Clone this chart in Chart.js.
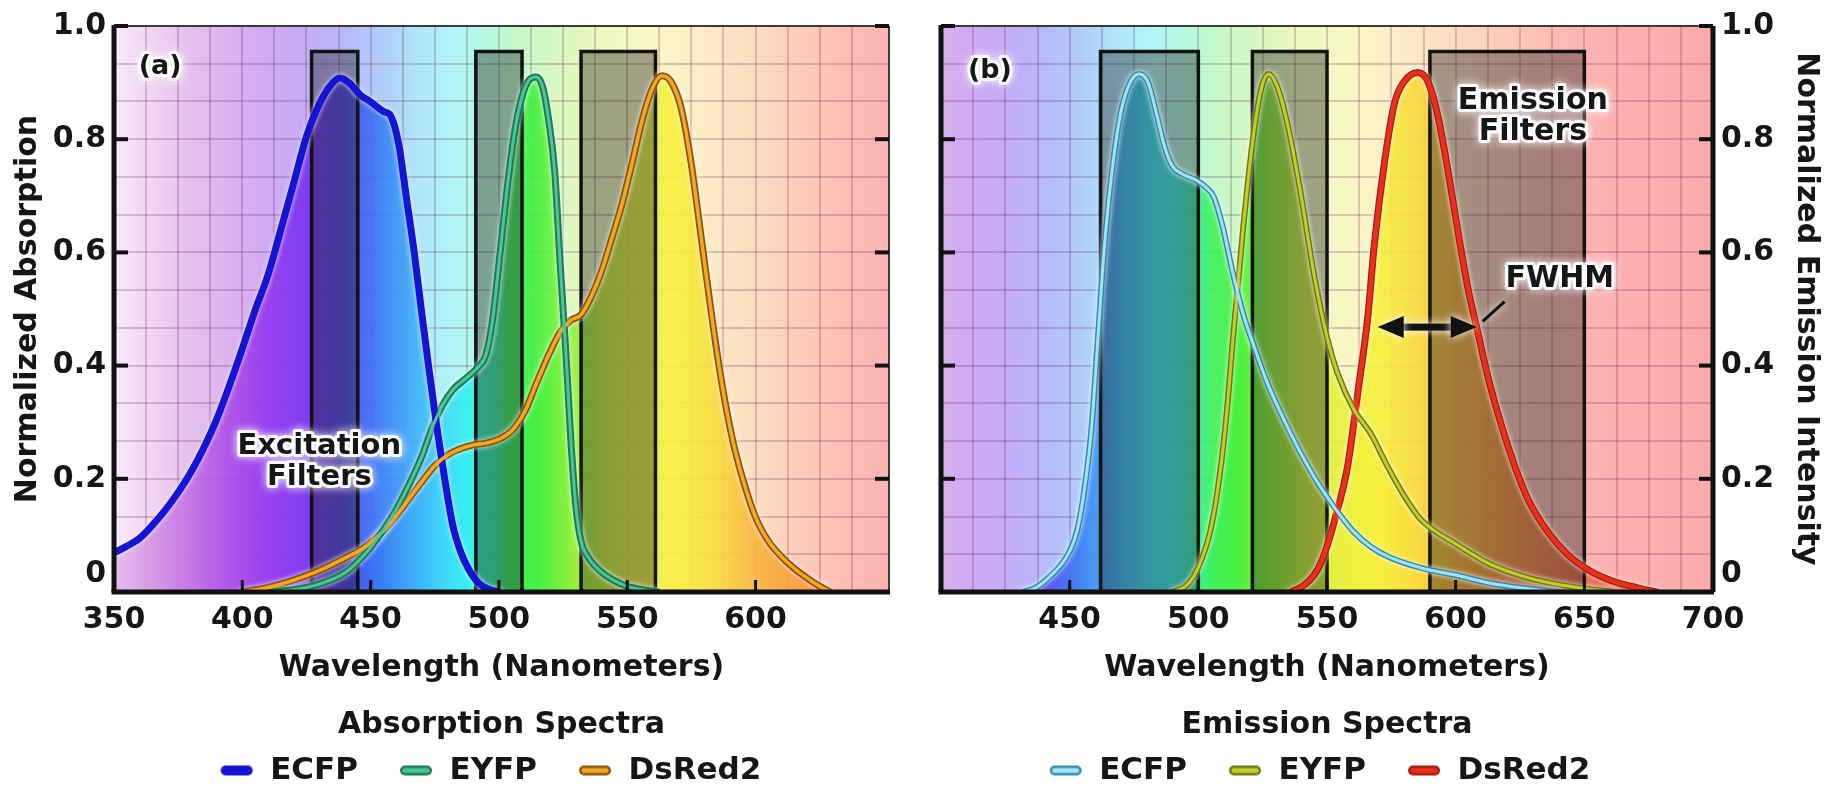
<!DOCTYPE html>
<html>
<head>
<meta charset="utf-8">
<script src="https://cdn.jsdelivr.net/npm/chart.js@4.4.1/dist/chart.umd.min.js"></script>
<style>
  html, body { margin: 0; padding: 0; background: #fff; }
  body { width: 1837px; height: 787px; position: relative; overflow: hidden; }
  .panel { position: absolute; top: 0; height: 787px; }
  #absPanel { left: 0; width: 980px; }
  #emPanel { left: 801px; width: 1036px; }
</style>
</head>
<body>
<div class="panel" id="absPanel"><canvas id="absChart"></canvas></div>
<div class="panel" id="emPanel"><canvas id="emChart"></canvas></div>
<script>
// absorption spectra (panel a)
const absEcfpNm = [350, 355, 360, 365, 370, 375, 380, 385, 390, 395, 400, 405, 410, 415, 420, 425, 430, 434, 438, 442, 446, 450, 455, 458, 461, 464, 467, 470, 473, 476, 479, 482, 485, 488, 492, 496, 500];
const absEcfpVal = [0.069, 0.081, 0.095, 0.118, 0.145, 0.176, 0.212, 0.255, 0.305, 0.365, 0.43, 0.498, 0.56, 0.64, 0.722, 0.805, 0.862, 0.893, 0.908, 0.898, 0.878, 0.866, 0.849, 0.84, 0.79, 0.695, 0.6, 0.49, 0.385, 0.285, 0.196, 0.118, 0.072, 0.042, 0.016, 0.005, 0];

const absEyfpNm = [410, 420, 430, 440, 448, 455, 460, 465, 470, 474, 478, 482, 487, 492, 495, 497.5, 500, 503, 506, 509, 511.5, 514.5, 517, 519.5, 521.7, 524, 526, 528, 530, 532, 535, 540, 545, 550, 556, 562];
const absEyfpVal = [0, 0.004, 0.014, 0.034, 0.068, 0.11, 0.146, 0.19, 0.24, 0.29, 0.33, 0.357, 0.377, 0.398, 0.42, 0.48, 0.58, 0.705, 0.81, 0.875, 0.903, 0.91, 0.893, 0.83, 0.745, 0.57, 0.43, 0.27, 0.15, 0.09, 0.06, 0.035, 0.02, 0.01, 0.004, 0];

const absDsredNm = [400, 410, 420, 430, 440, 448, 455, 460, 465, 470, 475, 480, 485, 490, 495, 500, 505, 510, 515, 520, 524, 528, 532, 536, 540, 544, 548, 552, 556, 560, 563.5, 567, 571, 575, 579, 583, 587, 591, 595, 600, 605, 610, 615, 620, 625, 629];
const absDsredVal = [0, 0.008, 0.021, 0.038, 0.06, 0.08, 0.108, 0.135, 0.165, 0.195, 0.223, 0.242, 0.253, 0.26, 0.263, 0.27, 0.285, 0.318, 0.373, 0.425, 0.46, 0.48, 0.49, 0.522, 0.567, 0.625, 0.686, 0.76, 0.837, 0.892, 0.912, 0.902, 0.855, 0.755, 0.62, 0.485, 0.365, 0.27, 0.2, 0.132, 0.09, 0.063, 0.042, 0.025, 0.01, 0];

// emission spectra (panel b)
const emEcfpNm = [432, 437, 442, 447, 450, 453, 456, 458.5, 461, 463.5, 466.5, 470, 473.5, 477, 480.5, 484, 487, 490, 494, 499, 503, 506, 509.5, 513.5, 517.5, 521.5, 526.5, 533, 539.5, 546, 552.5, 560, 567, 574, 587, 600, 613, 626, 640];
const emEcfpVal = [0, 0.008, 0.026, 0.05, 0.072, 0.11, 0.19, 0.29, 0.45, 0.61, 0.745, 0.85, 0.9, 0.915, 0.9, 0.84, 0.785, 0.752, 0.738, 0.728, 0.715, 0.698, 0.645, 0.562, 0.49, 0.436, 0.373, 0.307, 0.248, 0.196, 0.152, 0.108, 0.08, 0.062, 0.042, 0.03, 0.016, 0.007, 0];

const emEyfpNm = [490, 495, 498, 501.5, 504.5, 507, 509.5, 511.5, 513.5, 517.5, 521.5, 524.5, 527.3, 530.5, 534.5, 539.5, 545, 550, 554, 560.5, 567, 573.5, 580, 586.5, 600, 613, 626, 639, 652, 662];
const emEyfpVal = [0, 0.01, 0.026, 0.06, 0.105, 0.165, 0.25, 0.34, 0.45, 0.647, 0.81, 0.89, 0.915, 0.895, 0.83, 0.712, 0.56, 0.45, 0.388, 0.322, 0.28, 0.222, 0.17, 0.128, 0.085, 0.05, 0.028, 0.014, 0.005, 0];

const emDsredNm = [536, 541, 545, 548, 552.8, 558, 562, 565.8, 568.4, 572.3, 576.2, 580, 585.3, 589.2, 593, 597, 601, 604.8, 608.7, 612.6, 617.8, 623, 628.2, 636, 643.8, 651.6, 660.6, 671, 678];
const emDsredVal = [0, 0.012, 0.03, 0.055, 0.124, 0.222, 0.353, 0.484, 0.614, 0.758, 0.863, 0.902, 0.918, 0.902, 0.843, 0.745, 0.634, 0.536, 0.457, 0.379, 0.294, 0.222, 0.163, 0.105, 0.065, 0.039, 0.02, 0.007, 0];

// filter pass bands (nm) and their height
const excitationFilters = [[427, 445], [491, 509], [532, 561]];
const emissionFilters = [[462, 500], [521, 550], [590, 650]];
const filterTop = 0.955;

// tick labels
const absTickLabels = [350, 400, 450, 500, 550, 600];
const emTickLabels = [450, 500, 550, 600, 650, 700];
const yTickLabels = [0.2, 0.4, 0.6, 0.8, 1.0];

const FONT = "'DejaVu Sans', 'Liberation Sans', sans-serif";
const INK = '#161616';
const GRID = 'rgba(100, 30, 80, 0.22)';
const PLOT_TOP = 21;
const PLOT_BOTTOM = 592;
const PAD_BOTTOM = -9;

// pale spectrum behind the plots, saturated spectrum under the curves
const BG_STOPS = [[350, '#f8e8f8'], [365, '#f0d4f2'], [380, '#e4c0ec'], [395, '#dab2ee'], [410, '#d0aaf2'], [425, '#c4acf6'], [440, '#b8b8fa'], [455, '#b0cefa'], [468, '#b0e4fa'], [482, '#b0f6f8'], [495, '#b6f8e0'], [508, '#c4f8c8'], [522, '#d8f8c0'], [540, '#ecf8c0'], [560, '#faf6c6'], [580, '#fcecc6'], [600, '#fcdcc0'], [620, '#fccab8'], [640, '#fcbab4'], [660, '#fcb0b0'], [700, '#fcaaaa']];
const FILL_STOPS = [[350, '#e2bcec'], [365, '#d494e4'], [380, '#c070e4'], [395, '#aa4ce8'], [410, '#9236f0'], [425, '#7832f0'], [440, '#5244ee'], [452, '#3a76f4'], [465, '#3ea6f8'], [478, '#3ed6f8'], [488, '#36f0f0'], [497, '#36f0b6'], [505, '#3ef05e'], [515, '#46f03e'], [528, '#8ef03e'], [542, '#ccf03e'], [556, '#eaf03e'], [570, '#f8f03e'], [585, '#f8da3e'], [600, '#f8b63e'], [615, '#f89e3e'], [630, '#f48646'], [650, '#ec684a'], [670, '#e04e4e'], [700, '#d84646']];

const hexA = (hex, a) => {
  const n = parseInt(hex.slice(1), 16);
  return `rgba(${n >> 16},${(n >> 8) & 255},${n & 255},${a})`;
};

function spectrumGradient(chart, stops, alpha) {
  const xs = chart.scales.x;
  if (!chart.chartArea || !xs) return 'transparent';
  const first = stops[0][0];
  const last = stops[stops.length - 1][0];
  const g = chart.ctx.createLinearGradient(xs.getPixelForValue(first), 0, xs.getPixelForValue(last), 0);
  stops.forEach(([nm, col]) => g.addColorStop((nm - first) / (last - first), hexA(col, alpha)));
  return g;
}

function xyPoints(nm, val) {
  return nm.map((x, i) => ({ x, y: val[i] }));
}

function pill(style) {
  const c = document.createElement('canvas');
  c.width = 36;
  c.height = 14;
  const g = c.getContext('2d');
  g.lineCap = 'round';
  g.strokeStyle = style.outer;
  g.lineWidth = 10;
  g.beginPath(); g.moveTo(7, 7); g.lineTo(29, 7); g.stroke();
  if (style.inner) {
    g.strokeStyle = style.inner;
    g.lineWidth = 5;
    g.beginPath(); g.moveTo(7, 7); g.lineTo(29, 7); g.stroke();
  }
  return c;
}

function curveSets(curve) {
  const base = {
    xAxisID: 'x', yAxisID: 'y', pointRadius: 0, cubicInterpolationMode: 'monotone',
    borderJoinStyle: 'round', borderCapStyle: 'round',
  };
  const sets = [
    { ...base, label: curve.label + ' area', data: xyPoints(curve.nm, curve.val), fill: 'origin', borderWidth: 0, borderColor: 'transparent', backgroundColor: (c) => spectrumGradient(c.chart, FILL_STOPS, 0.9), order: 30 },
    { ...base, label: curve.label, data: xyPoints(curve.nm, curve.val), fill: false, borderWidth: curve.style.outerWidth, borderColor: curve.style.outer, order: 10, halo: true, legendImg: pill(curve.style) },
  ];
  if (curve.style.inner) {
    sets.push({ ...base, label: curve.label + ' core', data: xyPoints(curve.nm, curve.val), fill: false, borderWidth: curve.style.innerWidth, borderColor: curve.style.inner, order: 5 });
  }
  return sets;
}

function filterSet(lo, hi) {
  return {
    xAxisID: 'x', yAxisID: 'y', label: 'filter',
    data: [{ x: lo, y: 0 }, { x: lo, y: filterTop }, { x: hi, y: filterTop }, { x: hi, y: 0 }],
    fill: 'origin', backgroundColor: 'rgba(24, 24, 24, 0.38)', borderColor: '#121212', borderWidth: 3.5,
    pointRadius: 0, tension: 0, borderJoinStyle: 'miter', order: 20,
  };
}

function legendItems(chart) {
  return chart.data.datasets
    .map((ds, i) => ({ ds, i }))
    .filter((o) => o.ds.legendImg)
    .map((o) => ({
      text: o.ds.label, pointStyle: o.ds.legendImg, fillStyle: 'transparent', strokeStyle: 'transparent',
      lineWidth: 0, hidden: false, datasetIndex: o.i, fontColor: INK,
    }));
}

const spectrumBackdrop = {
  id: 'spectrumBackdrop',
  beforeDraw(chart) {
    const { ctx, chartArea: a } = chart;
    ctx.save();
    ctx.fillStyle = spectrumGradient(chart, BG_STOPS, 1);
    ctx.fillRect(a.left, a.top, a.width, a.height);
    ctx.restore();
  },
};

const lineHalo = {
  id: 'lineHalo',
  beforeDatasetDraw(chart, args) {
    if (!chart.data.datasets[args.index].halo) return;
    chart.ctx.save();
    chart.ctx.shadowColor = 'rgba(255, 255, 255, 0.85)';
    chart.ctx.shadowBlur = 5;
  },
  afterDatasetDraw(chart, args) {
    if (chart.data.datasets[args.index].halo) chart.ctx.restore();
  },
};

function glowText(ctx, text, px, py, size) {
  ctx.save();
  ctx.font = `bold ${size}px ${FONT}`;
  ctx.textAlign = 'center';
  ctx.textBaseline = 'middle';
  ctx.lineJoin = 'round';
  ctx.shadowColor = 'rgba(255, 255, 255, 1)';
  ctx.shadowBlur = 10;
  ctx.strokeStyle = 'rgba(255, 255, 255, 0.9)';
  ctx.lineWidth = 6;
  ctx.strokeText(text, px, py);
  ctx.shadowBlur = 4;
  ctx.fillStyle = INK;
  ctx.fillText(text, px, py);
  ctx.restore();
}

// frame, inward tick marks and the text notes inside the plot
const frame = {
  id: 'frame',
  afterDatasetsDraw(chart, args, opts) {
    const { ctx, chartArea: a } = chart;
    const xs = chart.scales.x;
    const ys = chart.scales.y;
    const seg = (x0, y0, x1, y1, w, c) => {
      ctx.strokeStyle = c;
      ctx.lineWidth = w;
      ctx.beginPath(); ctx.moveTo(x0, y0); ctx.lineTo(x1, y1); ctx.stroke();
    };
    ctx.save();
    ctx.lineCap = 'butt';
    seg(a.left, a.top, a.right, a.top, 2, '#3a3a3a');
    seg(a.right, a.top, a.right, a.bottom, opts.rightWidth, opts.rightColor);
    seg(a.left, a.top - 1, a.left, a.bottom, 5, '#111');
    opts.xTicks.forEach((v) => {
      const px = xs.getPixelForValue(v);
      seg(px, a.bottom, px, a.bottom - 12, 3, '#111');
    });
    yTickLabels.forEach((v) => {
      const py = ys.getPixelForValue(v);
      seg(a.left, py, a.left + 14, py, 4, '#111');
      seg(a.right - 14, py, a.right, py, 4, '#111');
    });
    seg(a.left - 2.5, a.bottom, a.right + 1, a.bottom, 5, '#111');

    opts.notes.forEach((n) => {
      n.lines.forEach((t, k) => glowText(ctx, t, xs.getPixelForValue(n.x), ys.getPixelForValue(n.y[k]), n.size));
    });

    if (opts.arrow) {
      const w = opts.arrow;
      const ay = ys.getPixelForValue(w.y);
      const x0 = xs.getPixelForValue(w.from);
      const x1 = xs.getPixelForValue(w.to);
      ctx.shadowColor = 'rgba(255, 255, 255, 1)';
      ctx.shadowBlur = 8;
      ctx.fillStyle = '#111';
      ctx.fillRect(x0 + 20, ay - 3.5, x1 - x0 - 40, 7);
      ctx.beginPath();
      ctx.moveTo(x0, ay); ctx.lineTo(x0 + 26, ay - 11); ctx.lineTo(x0 + 26, ay + 11); ctx.closePath();
      ctx.moveTo(x1, ay); ctx.lineTo(x1 - 26, ay - 11); ctx.lineTo(x1 - 26, ay + 11); ctx.closePath();
      ctx.fill();
      seg(xs.getPixelForValue(w.lead[0]), ys.getPixelForValue(w.lead[1]), xs.getPixelForValue(w.lead[2]), ys.getPixelForValue(w.lead[3]), 3, '#111');
    }
    ctx.restore();
  },
};

const tickFont = { family: FONT, size: 30, weight: 'bold' };

function spectrumChart(canvasId, cfg) {
  const datasets = [];
  cfg.curves.forEach((c) => datasets.push(...curveSets(c)));
  cfg.filters.forEach(([lo, hi]) => datasets.push(filterSet(lo, hi)));

  const yLabel = (v, i) => (i % 3 ? '' : (i === 0 ? ['0', ''] : v.toFixed(1)));
  const yMain = {
    type: 'linear', min: 0, max: 1, position: cfg.yPosition,
    ticks: { stepSize: 1 / 15, autoSkip: false, padding: 8, color: INK, font: tickFont, callback: yLabel },
    grid: { color: GRID, lineWidth: 2, drawTicks: false },
    border: { display: false },
    title: { display: true, text: cfg.yTitle, color: INK, font: tickFont, padding: { top: cfg.yTitlePad, bottom: 0 } },
    afterFit: (s) => { s.width = cfg.yWidth; },
  };
  const yEdge = {
    type: 'linear', min: 0, max: 1, position: cfg.yPosition === 'left' ? 'right' : 'left',
    ticks: { display: false }, grid: { display: false }, border: { display: false },
    afterFit: (s) => { s.width = cfg.edgeWidth; },
  };

  return new Chart(document.getElementById(canvasId), {
    type: 'line',
    data: { datasets },
    options: {
      responsive: true,
      maintainAspectRatio: false,
      animation: false,
      devicePixelRatio: 1,
      events: [],
      layout: { padding: { top: PLOT_TOP, bottom: PAD_BOTTOM, left: 0, right: 0 } },
      plugins: {
        tooltip: { enabled: false },
        title: { display: false },
        legend: {
          display: true, position: 'bottom', align: 'center',
          labels: { usePointStyle: true, pointStyleWidth: 36, padding: 40, color: INK, font: { family: FONT, size: 31, weight: 'bold' }, generateLabels: legendItems },
        },
        frame: { rightWidth: cfg.rightWidth, rightColor: cfg.rightColor, xTicks: cfg.xTicks, notes: cfg.notes, arrow: cfg.arrow },
      },
      scales: {
        x: {
          type: 'linear', min: cfg.xMin, max: cfg.xMax,
          ticks: {
            stepSize: 12.5, autoSkip: false, maxRotation: 0, minRotation: 0, padding: 10, color: INK, font: tickFont,
            callback: (v) => (cfg.xLabels.includes(v) ? String(v) : ''),
          },
          grid: { color: GRID, lineWidth: 2, drawTicks: false },
          border: { display: false },
          title: {
            display: true, text: ['Wavelength (Nanometers)', cfg.subtitle], color: INK,
            font: { family: FONT, size: 30, weight: 'bold', lineHeight: 1.9 }, padding: { top: 0, bottom: -39 },
          },
          afterFit: (s) => { s.height = s.chart.height - PAD_BOTTOM - s.chart.legend.height - PLOT_BOTTOM; },
        },
        y: yMain,
        yEdge,
      },
    },
    plugins: [spectrumBackdrop, lineHalo, frame],
  });
}

spectrumChart('absChart', {
  xMin: 350, xMax: 652, xLabels: absTickLabels, xTicks: [400, 450, 500, 550, 600],
  subtitle: 'Absorption Spectra',
  yPosition: 'left', yWidth: 114, edgeWidth: 91, yTitle: 'Normalized Absorption', yTitlePad: 10,
  rightWidth: 2, rightColor: '#3a3a3a',
  filters: excitationFilters,
  curves: [
    { label: 'ECFP', nm: absEcfpNm, val: absEcfpVal, style: { outer: '#1414d2', outerWidth: 7 } },
    { label: 'EYFP', nm: absEyfpNm, val: absEyfpVal, style: { outer: '#1d7a58', outerWidth: 7, inner: '#4cc494', innerWidth: 3 } },
    { label: 'DsRed2', nm: absDsredNm, val: absDsredVal, style: { outer: '#8a5510', outerWidth: 7, inner: '#f5a623', innerWidth: 3.5 } },
  ],
  notes: [
    { lines: ['(a)'], x: 368, y: [0.928], size: 27 },
    { lines: ['Excitation', 'Filters'], x: 430, y: [0.258, 0.203], size: 29 },
  ],
  arrow: null,
});

spectrumChart('emChart', {
  xMin: 400, xMax: 700, xLabels: emTickLabels, xTicks: [450, 500, 550, 600, 650],
  subtitle: 'Emission Spectra',
  yPosition: 'right', yWidth: 124, edgeWidth: 140, yTitle: 'Normalized Emission Intensity', yTitlePad: 13,
  rightWidth: 5, rightColor: '#111',
  filters: emissionFilters,
  curves: [
    { label: 'ECFP', nm: emEcfpNm, val: emEcfpVal, style: { outer: '#3b89a8', outerWidth: 6, inner: '#9be3f5', innerWidth: 3 } },
    { label: 'EYFP', nm: emEyfpNm, val: emEyfpVal, style: { outer: '#6b7a12', outerWidth: 6, inner: '#c4cc2e', innerWidth: 3 } },
    { label: 'DsRed2', nm: emDsredNm, val: emDsredVal, style: { outer: '#a81c0c', outerWidth: 7, inner: '#e8301c', innerWidth: 4.5 } },
  ],
  notes: [
    { lines: ['(b)'], x: 419, y: [0.92], size: 27 },
    { lines: ['Emission', 'Filters'], x: 630, y: [0.868, 0.813], size: 30 },
    { lines: ['FWHM'], x: 640.5, y: [0.552], size: 30 },
  ],
  arrow: { from: 569.7, to: 608.2, y: 0.468, lead: [610.5, 0.478, 619, 0.513] },
});
</script>
</body>
</html>
